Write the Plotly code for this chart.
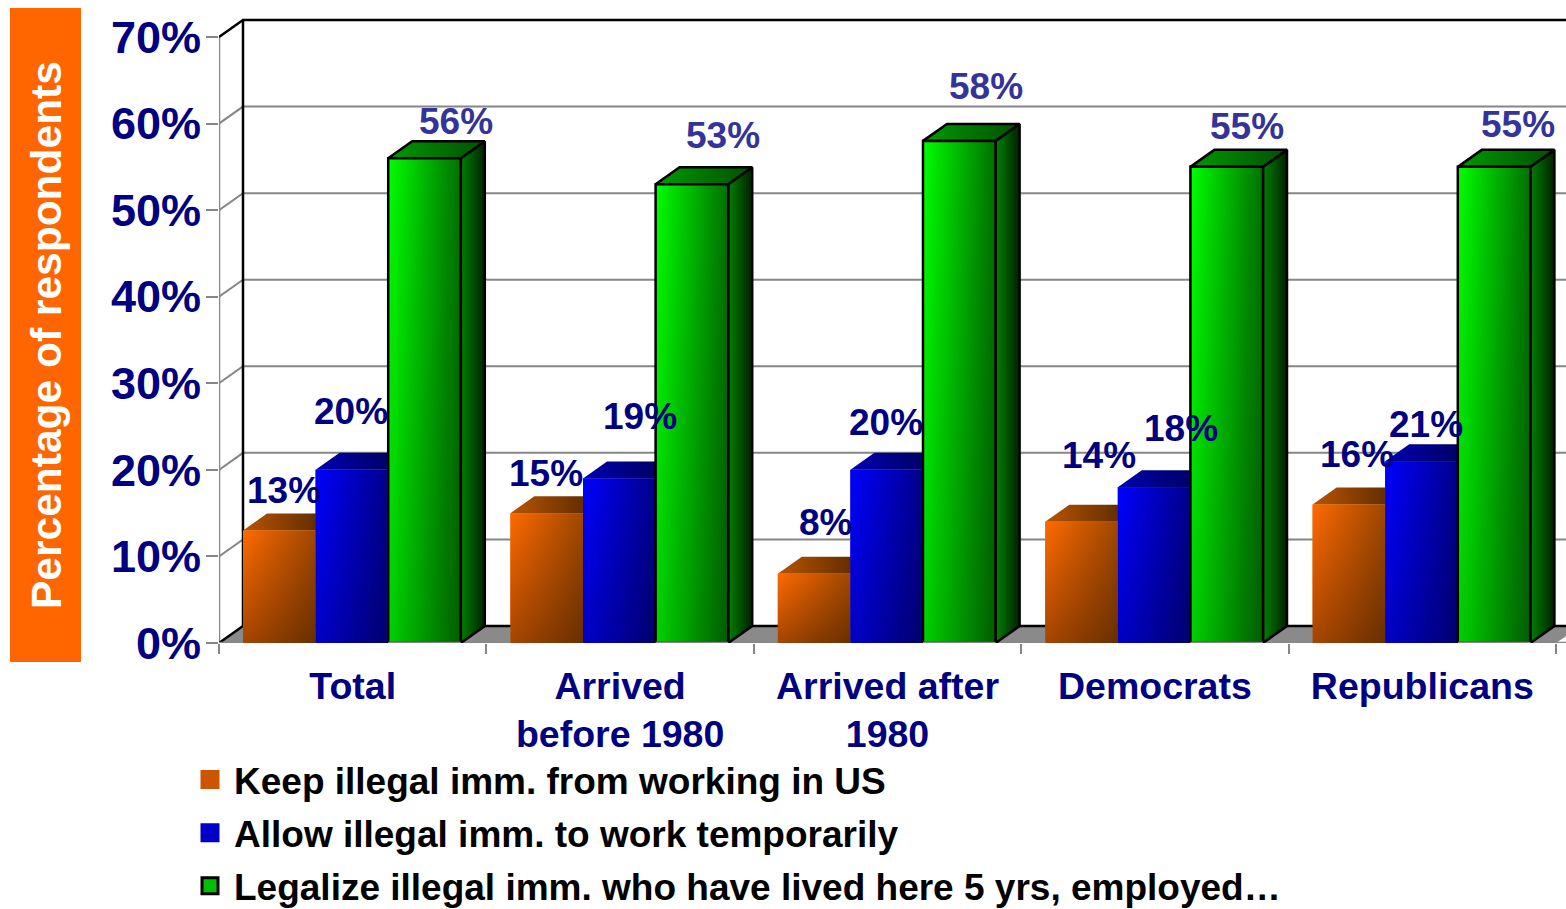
import plotly.graph_objects as go

categories = ["Total", "Arrived<br>before 1980", "Arrived after<br>1980", "Democrats", "Republicans"]
series_names = [
    "Keep illegal imm. from working in US",
    "Allow illegal imm. to work temporarily",
    "Legalize illegal imm. who have lived here 5 yrs, employed…",
]
keep_values = [13, 15, 8, 14, 16]
allow_values = [20, 19, 20, 18, 21]
legalize_values = [56, 53, 58, 55, 55]
y_ticks = [0, 10, 20, 30, 40, 50, 60, 70]

# ---- layout / style constants ----
W, H = 1566, 909
L, T, B = 219, 8, 643            # plot area in page pixels
CAT_PX = 267.4
UNIT_PX = 8.657
XMAX = (W - L) / CAT_PX
YMAX = (B - T) / UNIT_PX
DX = 24 / CAT_PX                 # depth of the fake 3D box
DY = 17 / UNIT_PX
GROUP_START = 24 / CAT_PX
BAR_W = 0.2715
GRAY = "#868686"
NAVY = "#000080"

STYLE = [
    dict(front=["#FF6A00", "#A04800"], shade=0.35, swatch="#CC5500", top=["#B85400", "#4A2200"], side=["#803800", "#3A1A00"], line=None, label=NAVY),
    dict(front=["#0000FF", "#00008C"], shade=0.22, swatch="#0000C8", top=["#0000B0", "#000050"], side=["#000080", "#000030"], line=None, label=NAVY),
    dict(front=["#00FF00", "#007000"], shade=0.18, swatch="#00C000", top=["#009A00", "#005000"], side=["#008000", "#002000"], line="#000000", label="#333399"),
]
# label offsets from the top of each bar, in pixels
LABEL_SHIFT = [
    [(5, 39.5), (-1, 40), (11, 51), (17, 66), (8, 49.5)],
    [(-1, 58), (21, 62), (-1, 47), (27, 59), (4, 37)],
    [(31, 37), (31, 49), (27, 54), (20, 40), (24, 42)],
]
all_values = [keep_values, allow_values, legalize_values]


def px(page_x):
    return (page_x - L) / (W - L)


def py(page_y):
    return (B - page_y) / (B - T)


fig = go.Figure()


def poly(xs, ys, colors, direction, line=None):
    fig.add_trace(go.Scatter(
        x=xs + xs[:1], y=ys + ys[:1], fill="toself", mode="lines" if line else "none",
        line=dict(color=line or "rgba(0,0,0,0)", width=2.5),
        fillgradient=dict(type=direction, colorscale=[[0, colors[0]], [1, colors[1]]]),
        hoverinfo="skip", showlegend=False, cliponaxis=False,
    ))


def segment(xs, ys, color, width):
    fig.add_trace(go.Scatter(
        x=xs, y=ys, mode="lines", line=dict(color=color, width=width),
        hoverinfo="skip", showlegend=False, cliponaxis=False,
    ))


# native bars (covered by gradient faces)
for s, vals in enumerate(all_values):
    fig.add_trace(go.Bar(
        x=[i + GROUP_START + (s + 0.5) * BAR_W for i in range(len(vals))], y=vals, width=BAR_W,
        marker=dict(color=STYLE[s]["front"][0], line=dict(width=0)), showlegend=False, name=series_names[s],
    ))

# floor
fig.add_trace(go.Scatter(
    x=[0, DX, XMAX, XMAX, len(categories), 0],
    y=[0, DY, DY, DY * 0.4, 0, 0], fill="toself", mode="none", fillcolor="#8A8A8A",
    hoverinfo="skip", showlegend=False, cliponaxis=False,
))
# walls
for v in y_ticks[1:-1]:
    segment([0, DX, XMAX], [v, v + DY, v + DY], GRAY, 2)
segment([0, 0], [0, y_ticks[-1]], GRAY, 2.5)
segment([DX, DX], [DY, y_ticks[-1] + DY], "#000000", 2.5)
segment([0, DX, XMAX], [y_ticks[-1], y_ticks[-1] + DY, y_ticks[-1] + DY], "#000000", 2.5)
segment([0, DX, XMAX], [0, DY, DY], "#000000", 2.5)
segment([0, XMAX], [0, 0], GRAY, 2.5)

# bar faces
for c in range(len(categories)):
    for s, vals in enumerate(all_values):
        st = STYLE[s]
        x0 = c + GROUP_START + s * BAR_W
        x1 = x0 + BAR_W
        v = vals[c]
        poly([x1, x1 + DX, x1 + DX, x1], [0, DY, v + DY, v], st["side"], "horizontal", st["line"])
        poly([x0, x1, x1 + DX, x0 + DX], [v, v, v + DY, v + DY], st["top"], "horizontal", st["line"])
        poly([x0, x1, x1, x0], [0, 0, v, v], st["front"], "horizontal", None)
        poly([x0, x1, x1, x0], [0, 0, v, v], ["rgba(0,0,0,%.2f)" % st["shade"], "rgba(0,0,0,0)"], "vertical", None)
        if st["line"]:
            segment([x0, x1, x1, x0, x0], [0, 0, v, v, 0], st["line"], 2.5)
            segment([x0, x1], [0, 0], GRAY, 2.5)
        dxp, dyp = LABEL_SHIFT[s][c]
        fig.add_annotation(
            x=x0 + BAR_W / 2, y=v, text=f"<b>{v}%</b>", showarrow=False, xshift=dxp, yshift=dyp,
            font=dict(family="Liberation Sans", size=37, color=st["label"]),
            xanchor="center", yanchor="middle",
        )

# legend proxies
for s, name in enumerate(series_names):
    st = STYLE[s]
    fig.add_trace(go.Scatter(
        x=[None], y=[None], mode="markers", name=name, legendgroup=str(s),
        marker=dict(symbol="square", size=16, color=st["swatch"],
                    line=dict(width=3, color=st["line"] or st["swatch"])),
    ))

# orange title block
fig.add_shape(type="rect", xref="paper", yref="paper", x0=px(10), x1=px(81), y0=py(662), y1=py(8),
              fillcolor="#FF6600", line=dict(width=0), layer="below")
fig.add_annotation(xref="paper", yref="paper", x=px(46), y=py(335), text="<b>Percentage of respondents</b>",
                   textangle=-90, showarrow=False, xanchor="center", yanchor="middle",
                   font=dict(family="Liberation Sans", size=42.5, color="#FFFFFF"))

fig.update_layout(
    width=W, height=H, margin=dict(l=L, r=0, t=T, b=H - B, autoexpand=False),
    paper_bgcolor="#FFFFFF", plot_bgcolor="#FFFFFF", barmode="overlay",
    font=dict(family="Liberation Sans", color=NAVY),
    xaxis=dict(
        range=[0, XMAX], tickmode="array",
        tickvals=[i + 0.5 for i in range(len(categories))],
        ticktext=[f"<b>{c}</b>".replace("<br>", "</b><br><b>") for c in categories],
        tickfont=dict(size=37.5, color=NAVY), ticks="", ticklabelstandoff=17,
        showgrid=False, zeroline=False, showline=False,
        minor=dict(tickmode="array", tickvals=list(range(len(categories) + 1)), ticks="outside",
                   ticklen=10, tickwidth=2, tickcolor=GRAY, showgrid=False),
    ),
    yaxis=dict(
        range=[0, YMAX], tickmode="array", tickvals=y_ticks,
        ticktext=[f"<b>{v}%</b>" for v in y_ticks],
        tickfont=dict(size=45, color=NAVY), ticks="outside", ticklen=12, tickwidth=2, tickcolor=GRAY,
        ticklabelstandoff=-4, showgrid=False, zeroline=False, showline=False,
    ),
    legend=dict(
        x=px(186), y=py(749), xanchor="left", yanchor="top", traceorder="grouped",
        tracegroupgap=2, font=dict(family="Liberation Sans", size=37, color="#000000", weight="bold"),
        bgcolor="rgba(0,0,0,0)", itemwidth=38,
    ),
    showlegend=True,
)

fig.write_html(
    "out.html",
    config={"displayModeBar": False},
    post_script="document.body.style.margin='0';document.documentElement.style.overflow='hidden';",
)
